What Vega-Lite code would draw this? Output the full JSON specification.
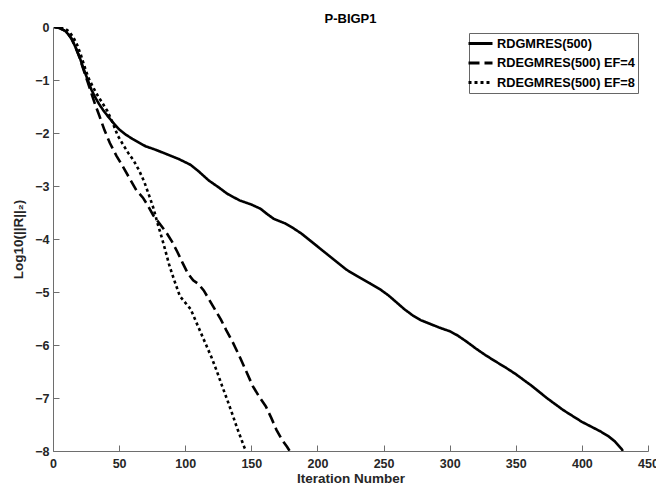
{
  "$schema": "https://vega.github.io/schema/vega-lite/v6.json",
  "width": 595,
  "height": 424,
  "autosize": {"type": "none"},
  "padding": {"left": 53, "top": 27, "right": 8, "bottom": 38},
  "background": "white",
  "title": {"text": "P-BIGP1", "fontSize": 13, "fontWeight": "bold", "font": "Liberation Sans", "color": "#000", "anchor": "middle", "offset": -5},
  "config": {
    "view": {"stroke": null},
    "font": "Liberation Sans",
    "axis": {"grid": false, "domainColor": "#6e6e6e", "tickColor": "#6e6e6e", "domainWidth": 1, "tickWidth": 1, "labelColor": "#262626", "labelFont": "Liberation Sans", "labelFontWeight": "bold", "labelFontSize": 12.5, "titleFont": "Liberation Sans", "titleFontWeight": "bold", "titleFontSize": 13.5, "titleColor": "#262626"}
  },
  "data": {"values": [
    {"series": "RDGMRES(500)", "it": 1, "r": 0},
    {"series": "RDGMRES(500)", "it": 5, "r": -0.02},
    {"series": "RDGMRES(500)", "it": 9, "r": -0.07},
    {"series": "RDGMRES(500)", "it": 12, "r": -0.15},
    {"series": "RDGMRES(500)", "it": 14, "r": -0.22},
    {"series": "RDGMRES(500)", "it": 17, "r": -0.38},
    {"series": "RDGMRES(500)", "it": 20, "r": -0.56},
    {"series": "RDGMRES(500)", "it": 23, "r": -0.78},
    {"series": "RDGMRES(500)", "it": 26, "r": -0.98},
    {"series": "RDGMRES(500)", "it": 29, "r": -1.18},
    {"series": "RDGMRES(500)", "it": 32, "r": -1.33},
    {"series": "RDGMRES(500)", "it": 35, "r": -1.46},
    {"series": "RDGMRES(500)", "it": 38, "r": -1.57},
    {"series": "RDGMRES(500)", "it": 42, "r": -1.70},
    {"series": "RDGMRES(500)", "it": 46, "r": -1.82},
    {"series": "RDGMRES(500)", "it": 50, "r": -1.93},
    {"series": "RDGMRES(500)", "it": 55, "r": -2.03},
    {"series": "RDGMRES(500)", "it": 60, "r": -2.11},
    {"series": "RDGMRES(500)", "it": 65, "r": -2.18},
    {"series": "RDGMRES(500)", "it": 70, "r": -2.25},
    {"series": "RDGMRES(500)", "it": 78, "r": -2.32},
    {"series": "RDGMRES(500)", "it": 86, "r": -2.40},
    {"series": "RDGMRES(500)", "it": 95, "r": -2.49},
    {"series": "RDGMRES(500)", "it": 104, "r": -2.60},
    {"series": "RDGMRES(500)", "it": 110, "r": -2.72},
    {"series": "RDGMRES(500)", "it": 118, "r": -2.90},
    {"series": "RDGMRES(500)", "it": 125, "r": -3.02},
    {"series": "RDGMRES(500)", "it": 132, "r": -3.15},
    {"series": "RDGMRES(500)", "it": 141, "r": -3.27},
    {"series": "RDGMRES(500)", "it": 150, "r": -3.35},
    {"series": "RDGMRES(500)", "it": 157, "r": -3.43},
    {"series": "RDGMRES(500)", "it": 162, "r": -3.53},
    {"series": "RDGMRES(500)", "it": 167, "r": -3.62},
    {"series": "RDGMRES(500)", "it": 175, "r": -3.70},
    {"series": "RDGMRES(500)", "it": 182, "r": -3.80},
    {"series": "RDGMRES(500)", "it": 188, "r": -3.90},
    {"series": "RDGMRES(500)", "it": 193, "r": -4.00},
    {"series": "RDGMRES(500)", "it": 200, "r": -4.14},
    {"series": "RDGMRES(500)", "it": 207, "r": -4.28},
    {"series": "RDGMRES(500)", "it": 214, "r": -4.42},
    {"series": "RDGMRES(500)", "it": 222, "r": -4.58},
    {"series": "RDGMRES(500)", "it": 230, "r": -4.70},
    {"series": "RDGMRES(500)", "it": 240, "r": -4.84},
    {"series": "RDGMRES(500)", "it": 248, "r": -4.96},
    {"series": "RDGMRES(500)", "it": 254, "r": -5.07},
    {"series": "RDGMRES(500)", "it": 260, "r": -5.20},
    {"series": "RDGMRES(500)", "it": 266, "r": -5.33},
    {"series": "RDGMRES(500)", "it": 272, "r": -5.44},
    {"series": "RDGMRES(500)", "it": 278, "r": -5.53},
    {"series": "RDGMRES(500)", "it": 285, "r": -5.60},
    {"series": "RDGMRES(500)", "it": 292, "r": -5.67},
    {"series": "RDGMRES(500)", "it": 300, "r": -5.74},
    {"series": "RDGMRES(500)", "it": 306, "r": -5.82},
    {"series": "RDGMRES(500)", "it": 313, "r": -5.94},
    {"series": "RDGMRES(500)", "it": 320, "r": -6.07},
    {"series": "RDGMRES(500)", "it": 327, "r": -6.19},
    {"series": "RDGMRES(500)", "it": 334, "r": -6.30},
    {"series": "RDGMRES(500)", "it": 342, "r": -6.42},
    {"series": "RDGMRES(500)", "it": 350, "r": -6.55},
    {"series": "RDGMRES(500)", "it": 356, "r": -6.66},
    {"series": "RDGMRES(500)", "it": 362, "r": -6.77},
    {"series": "RDGMRES(500)", "it": 368, "r": -6.89},
    {"series": "RDGMRES(500)", "it": 374, "r": -7.01},
    {"series": "RDGMRES(500)", "it": 380, "r": -7.12},
    {"series": "RDGMRES(500)", "it": 386, "r": -7.23},
    {"series": "RDGMRES(500)", "it": 393, "r": -7.34},
    {"series": "RDGMRES(500)", "it": 400, "r": -7.45},
    {"series": "RDGMRES(500)", "it": 407, "r": -7.54},
    {"series": "RDGMRES(500)", "it": 414, "r": -7.63},
    {"series": "RDGMRES(500)", "it": 420, "r": -7.72},
    {"series": "RDGMRES(500)", "it": 425, "r": -7.82},
    {"series": "RDGMRES(500)", "it": 430, "r": -7.96},
    {"series": "RDGMRES(500)", "it": 431, "r": -8.0},

    {"series": "RDEGMRES(500) EF=4", "it": 1, "r": 0},
    {"series": "RDEGMRES(500) EF=4", "it": 5, "r": -0.02},
    {"series": "RDEGMRES(500) EF=4", "it": 9, "r": -0.07},
    {"series": "RDEGMRES(500) EF=4", "it": 12, "r": -0.15},
    {"series": "RDEGMRES(500) EF=4", "it": 14, "r": -0.22},
    {"series": "RDEGMRES(500) EF=4", "it": 17, "r": -0.38},
    {"series": "RDEGMRES(500) EF=4", "it": 20, "r": -0.57},
    {"series": "RDEGMRES(500) EF=4", "it": 23, "r": -0.80},
    {"series": "RDEGMRES(500) EF=4", "it": 26, "r": -1.02},
    {"series": "RDEGMRES(500) EF=4", "it": 29, "r": -1.25},
    {"series": "RDEGMRES(500) EF=4", "it": 32, "r": -1.47},
    {"series": "RDEGMRES(500) EF=4", "it": 35, "r": -1.67},
    {"series": "RDEGMRES(500) EF=4", "it": 39, "r": -1.95},
    {"series": "RDEGMRES(500) EF=4", "it": 43, "r": -2.19},
    {"series": "RDEGMRES(500) EF=4", "it": 48, "r": -2.43},
    {"series": "RDEGMRES(500) EF=4", "it": 53, "r": -2.64},
    {"series": "RDEGMRES(500) EF=4", "it": 58, "r": -2.86},
    {"series": "RDEGMRES(500) EF=4", "it": 63, "r": -3.08},
    {"series": "RDEGMRES(500) EF=4", "it": 68, "r": -3.22},
    {"series": "RDEGMRES(500) EF=4", "it": 72, "r": -3.38},
    {"series": "RDEGMRES(500) EF=4", "it": 76, "r": -3.56},
    {"series": "RDEGMRES(500) EF=4", "it": 81, "r": -3.72},
    {"series": "RDEGMRES(500) EF=4", "it": 86, "r": -3.89},
    {"series": "RDEGMRES(500) EF=4", "it": 90, "r": -4.05},
    {"series": "RDEGMRES(500) EF=4", "it": 94, "r": -4.24},
    {"series": "RDEGMRES(500) EF=4", "it": 98, "r": -4.45},
    {"series": "RDEGMRES(500) EF=4", "it": 102, "r": -4.65},
    {"series": "RDEGMRES(500) EF=4", "it": 106, "r": -4.78},
    {"series": "RDEGMRES(500) EF=4", "it": 110, "r": -4.85},
    {"series": "RDEGMRES(500) EF=4", "it": 114, "r": -4.97},
    {"series": "RDEGMRES(500) EF=4", "it": 118, "r": -5.14},
    {"series": "RDEGMRES(500) EF=4", "it": 122, "r": -5.31},
    {"series": "RDEGMRES(500) EF=4", "it": 127, "r": -5.52},
    {"series": "RDEGMRES(500) EF=4", "it": 131, "r": -5.72},
    {"series": "RDEGMRES(500) EF=4", "it": 136, "r": -5.95},
    {"series": "RDEGMRES(500) EF=4", "it": 141, "r": -6.21},
    {"series": "RDEGMRES(500) EF=4", "it": 146, "r": -6.49},
    {"series": "RDEGMRES(500) EF=4", "it": 151, "r": -6.77},
    {"series": "RDEGMRES(500) EF=4", "it": 156, "r": -6.98},
    {"series": "RDEGMRES(500) EF=4", "it": 161, "r": -7.16},
    {"series": "RDEGMRES(500) EF=4", "it": 165, "r": -7.37},
    {"series": "RDEGMRES(500) EF=4", "it": 169, "r": -7.60},
    {"series": "RDEGMRES(500) EF=4", "it": 173, "r": -7.78},
    {"series": "RDEGMRES(500) EF=4", "it": 177, "r": -7.92},
    {"series": "RDEGMRES(500) EF=4", "it": 179, "r": -8.0},

    {"series": "RDEGMRES(500) EF=8", "it": 1, "r": 0},
    {"series": "RDEGMRES(500) EF=8", "it": 5, "r": -0.01},
    {"series": "RDEGMRES(500) EF=8", "it": 9, "r": -0.03},
    {"series": "RDEGMRES(500) EF=8", "it": 12, "r": -0.08},
    {"series": "RDEGMRES(500) EF=8", "it": 15, "r": -0.18},
    {"series": "RDEGMRES(500) EF=8", "it": 18, "r": -0.32},
    {"series": "RDEGMRES(500) EF=8", "it": 21, "r": -0.52},
    {"series": "RDEGMRES(500) EF=8", "it": 24, "r": -0.76},
    {"series": "RDEGMRES(500) EF=8", "it": 27, "r": -0.97},
    {"series": "RDEGMRES(500) EF=8", "it": 30, "r": -1.12},
    {"series": "RDEGMRES(500) EF=8", "it": 33, "r": -1.26},
    {"series": "RDEGMRES(500) EF=8", "it": 37, "r": -1.42},
    {"series": "RDEGMRES(500) EF=8", "it": 41, "r": -1.58},
    {"series": "RDEGMRES(500) EF=8", "it": 45, "r": -1.80},
    {"series": "RDEGMRES(500) EF=8", "it": 49, "r": -2.05},
    {"series": "RDEGMRES(500) EF=8", "it": 53, "r": -2.22},
    {"series": "RDEGMRES(500) EF=8", "it": 57, "r": -2.38},
    {"series": "RDEGMRES(500) EF=8", "it": 61, "r": -2.52},
    {"series": "RDEGMRES(500) EF=8", "it": 65, "r": -2.70},
    {"series": "RDEGMRES(500) EF=8", "it": 69, "r": -2.92},
    {"series": "RDEGMRES(500) EF=8", "it": 73, "r": -3.20},
    {"series": "RDEGMRES(500) EF=8", "it": 76, "r": -3.42},
    {"series": "RDEGMRES(500) EF=8", "it": 79, "r": -3.70},
    {"series": "RDEGMRES(500) EF=8", "it": 82, "r": -3.95},
    {"series": "RDEGMRES(500) EF=8", "it": 85, "r": -4.22},
    {"series": "RDEGMRES(500) EF=8", "it": 88, "r": -4.50},
    {"series": "RDEGMRES(500) EF=8", "it": 92, "r": -4.80},
    {"series": "RDEGMRES(500) EF=8", "it": 96, "r": -5.08},
    {"series": "RDEGMRES(500) EF=8", "it": 100, "r": -5.20},
    {"series": "RDEGMRES(500) EF=8", "it": 104, "r": -5.32},
    {"series": "RDEGMRES(500) EF=8", "it": 108, "r": -5.55},
    {"series": "RDEGMRES(500) EF=8", "it": 112, "r": -5.78},
    {"series": "RDEGMRES(500) EF=8", "it": 116, "r": -6.01},
    {"series": "RDEGMRES(500) EF=8", "it": 120, "r": -6.24},
    {"series": "RDEGMRES(500) EF=8", "it": 124, "r": -6.50},
    {"series": "RDEGMRES(500) EF=8", "it": 128, "r": -6.78},
    {"series": "RDEGMRES(500) EF=8", "it": 132, "r": -7.05},
    {"series": "RDEGMRES(500) EF=8", "it": 136, "r": -7.33},
    {"series": "RDEGMRES(500) EF=8", "it": 139, "r": -7.55},
    {"series": "RDEGMRES(500) EF=8", "it": 142, "r": -7.75},
    {"series": "RDEGMRES(500) EF=8", "it": 145, "r": -7.95},
    {"series": "RDEGMRES(500) EF=8", "it": 146, "r": -8.0}
  ]},
  "mark": {"type": "line", "color": "#000", "strokeWidth": 2.6, "strokeCap": "butt", "clip": true},
  "encoding": {
    "x": {"field": "it", "type": "quantitative", "scale": {"domain": [0, 450], "nice": false, "zero": false},
      "axis": {"title": "Iteration Number", "values": [0, 50, 100, 150, 200, 250, 300, 350, 400, 450], "tickSize": -6, "labelPadding": 12, "titlePadding": 2, "labelFlush": false}},
    "y": {"field": "r", "type": "quantitative", "scale": {"domain": [-8, 0], "nice": false, "zero": false},
      "axis": {"title": "Log10(||R||₂)", "values": [0, -1, -2, -3, -4, -5, -6, -7, -8], "tickSize": -6, "labelPadding": 10, "titlePadding": 9, "labelFlush": false}},
    "strokeDash": {"field": "series", "type": "nominal",
      "scale": {"domain": ["RDGMRES(500)", "RDEGMRES(500) EF=4", "RDEGMRES(500) EF=8"], "range": [[1, 0], [11, 5], [3, 3]]},
      "legend": {"title": null, "orient": "none", "legendX": 416, "legendY": 6, "strokeColor": "#666", "fillColor": "white", "padding": 3,
        "symbolType": "M-2,0H2", "symbolSize": 144, "symbolStrokeWidth": 3, "symbolStrokeColor": "#000", "symbolOffset": 1,
        "labelFont": "Liberation Sans", "labelFontWeight": "bold", "labelFontSize": 12.75, "labelColor": "#000", "labelOffset": 9, "rowPadding": 4.5, "labelLimit": 300}}
  }
}
